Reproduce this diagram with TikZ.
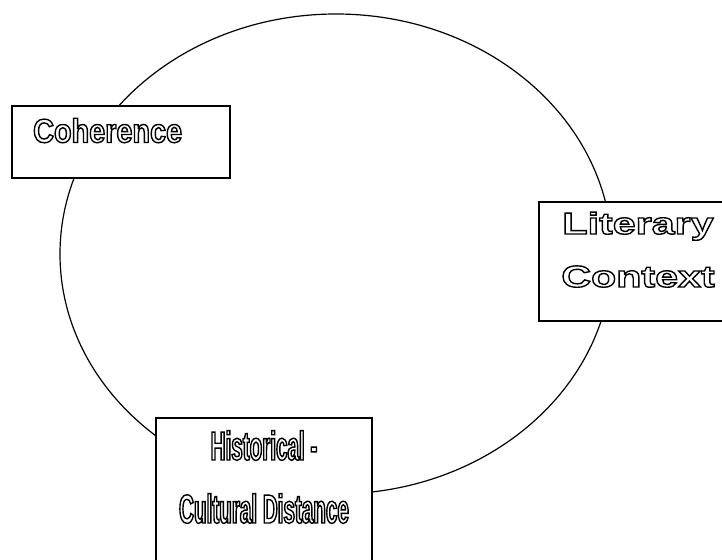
\documentclass[tikz,border=0pt]{standalone}
\usepackage{fontspec}
\usetikzlibrary{shapes.geometric,positioning}
\setmainfont{Liberation Sans}
\newfontfamily\midfont[FakeStretch=0.86]{Liberation Sans}
\newfontfamily\slimfont[FakeStretch=0.51]{Liberation Sans}
\newfontfamily\widefont[FakeStretch=1.36]{Liberation Sans}
\begin{document}
\begin{tikzpicture}[x=1pt,y=-1pt,
  box/.style={draw, fill=white, line width=1.6pt, rectangle, inner sep=0pt},
  hollow/.style={inner sep=0pt, align=center,
    execute at begin node={\special{pdf:literal direct 1 Tr 1.4 w}},
    execute at end node={\special{pdf:literal direct 0 Tr}}}]
\useasboundingbox (0,0) rectangle (722,559);
\clip (0,0) rectangle (722,559);
% the circle
\node[draw, ellipse, line width=1.2pt, inner sep=0pt,
  minimum width=552, minimum height=480] (circ) at (336,254) {};
% boxes sitting on the circle
\node[box, minimum width=218, minimum height=72] (coh) at (121,142) {};
\node[box, minimum width=201, minimum height=119] (lit) at (639.5,261.5) {};
\node[box, minimum width=216, minimum height=152] (hist) at (264,494) {};
% labels (base = last line)
\node[hollow, anchor=base west, font=\midfont\bfseries\fontsize{33.5}{39}\selectfont]
  (cohtxt) at (33,142.5) {Coherence};
\node[hollow, anchor=base, font=\widefont\bfseries\fontsize{30.3}{53}\selectfont]
  (littxt) at (638,287) {Literary\\Context};
\node[hollow, anchor=base, font=\slimfont\bfseries\fontsize{40.5}{63}\selectfont]
  (histtxt) at (264,523) {Historical -\\Cultural Distance};
\end{tikzpicture}
\end{document}
